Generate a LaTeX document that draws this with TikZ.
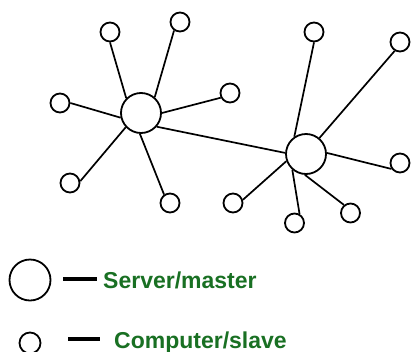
\documentclass[tikz,border=0pt]{standalone}
\usepackage{fontspec}
\newfontfamily\lgfont{Liberation Sans}
\definecolor{lggreen}{RGB}{25,112,35}
\tikzset{
  srv/.style={circle,draw=black,line width=1.8pt,minimum size=40pt,inner sep=0pt},
  pc/.style={circle,draw=black,line width=1.8pt,minimum size=19pt,inner sep=0pt},
  lnk/.style={draw=black,line width=1.7pt},
  legline/.style={draw=black,line width=4pt},
  legtext/.style={anchor=base west,inner sep=0pt,text=lggreen,font=\lgfont\bfseries\fontsize{23}{26}\selectfont}
}
\begin{document}
\begin{tikzpicture}[x=1pt,y=-1pt]
\useasboundingbox (0,0) rectangle (414,351);
% servers
\node[srv] (L) at (141,113) {};
\node[srv] (R) at (306,154) {};
% left cluster
\node[pc] (l1) at (110,32) {};
\node[pc] (l2) at (180,22) {};
\node[pc] (l3) at (60,103) {};
\node[pc] (l4) at (70,183) {};
\node[pc] (l5) at (170,203) {};
\node[pc] (l6) at (230,93) {};
% right cluster
\node[pc] (r1) at (314,32) {};
\node[pc] (r2) at (400,42) {};
\node[pc] (r3) at (400,163) {};
\node[pc] (r4) at (350.5,213) {};
\node[pc] (r5) at (233,203) {};
\node[pc] (r6) at (294.5,223) {};
% links
\draw[lnk] (L.135) -- (l1.270);
\draw[lnk] (L.49) -- (l2.235);
\draw[lnk] (L.193) -- (l3.0);
\draw[lnk] (L.223) -- (l4.10);
\draw[lnk] (L.267) -- (l5.125);
\draw[lnk] (L.0) -- (l6.207);
\draw[lnk] (L.319) -- (R.177);
\draw[lnk] (R.124) -- (r1.270);
\draw[lnk] (R.50) -- (r2.239);
\draw[lnk] (R.3) -- (r3.215);
\draw[lnk] (R.267) -- (r4.129);
\draw[lnk] (R.200) -- (r5.18);
\draw[lnk] (R.229) -- (r6.61);
% legend
\node[srv,minimum size=41pt] (ls) at (30,280) {};
\coordinate (ls1) at (63,279);
\coordinate (ls2) at (97,279);
\draw[legline] (ls1) -- (ls2);
\node[legtext] (lst) at (103,288) {Server/master};
\node[pc,minimum size=21pt] (lc) at (30,343) {};
\coordinate (lc1) at (68,339);
\coordinate (lc2) at (100,339);
\draw[legline] (lc1) -- (lc2);
\node[legtext] (lct) at (114,348) {Computer/slave};
\end{tikzpicture}
\end{document}
